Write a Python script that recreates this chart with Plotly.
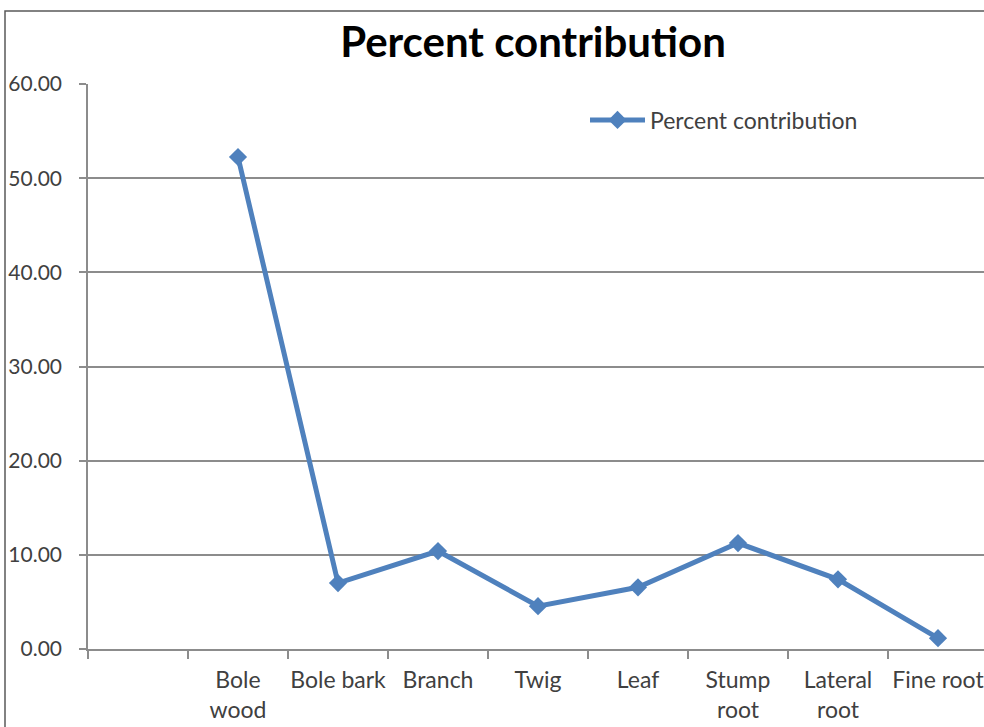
import plotly.graph_objects as go

# Biomass components and their percent contribution
categories = ["Bole<br>wood", "Bole bark", "Branch", "Twig", "Leaf",
              "Stump<br>root", "Lateral<br>root", "Fine root"]
percent = [52.25, 7.0, 10.4, 4.55, 6.55, 11.25, 7.4, 1.15]
y_ticks = [0, 10, 20, 30, 40, 50, 60]
y_tick_text = [f"{v:.2f}" for v in y_ticks]

# leading empty slot on the category axis
axis_categories = [" "] + categories

LINE_BLUE = "#4F81BD"
GRID = "#8C8C8C"
TEXT = "#404040"
FONT = "Lato"

fig = go.Figure()
fig.add_trace(go.Scatter(
    x=categories, y=percent,
    mode="lines+markers",
    name="Percent contribution",
    line=dict(color=LINE_BLUE, width=5),
    marker=dict(symbol="diamond", size=14, color=LINE_BLUE),
))

W, H = 984, 727
L, R, T, B = 88, 0, 84, 78
pw, ph = W - L - R, H - T - B

fig.update_layout(
    width=W, height=H,
    margin=dict(l=L, r=R, t=T, b=B, pad=0, autoexpand=False),
    paper_bgcolor="white", plot_bgcolor="white",
    font=dict(family=FONT, size=23, color=TEXT),
    title=dict(text="<b>Percent contribution</b>",
               font=dict(family=FONT, size=42, color="black"),
               x=533 / W, xanchor="center", y=1 - 42 / H, yanchor="middle"),
    showlegend=True,
    legend=dict(x=(585 - L) / pw, xanchor="left",
                y=(H - B - 120) / ph, yanchor="middle",
                itemwidth=55,
                bgcolor="rgba(0,0,0,0)", borderwidth=0,
                font=dict(family=FONT, size=23, color=TEXT)),
    xaxis=dict(
        type="category", categoryorder="array", categoryarray=axis_categories,
        range=[-0.5, -0.5 + pw / 100],
        tickson="boundaries", ticks="outside", ticklen=8, tickwidth=1.5, tickcolor=GRID,
        showline=True, linecolor=GRID, linewidth=1.5,
        showgrid=False, zeroline=False,
        tickangle=0, automargin=False,
        ticklabelstandoff=10,
        tickfont=dict(family=FONT, size=23, color=TEXT),
    ),
    yaxis=dict(
        range=[0, 60], tickvals=y_ticks, ticktext=y_tick_text,
        ticks="outside", ticklen=7, tickwidth=1.5, tickcolor=GRID,
        showline=True, linecolor=GRID, linewidth=1.5,
        showgrid=True, gridcolor=GRID, gridwidth=1.5, zeroline=False,
        automargin=False,
        ticklabelstandoff=13,
        tickfont=dict(family=FONT, size=21, color=TEXT),
    ),
)

# chart frame
fig.add_shape(type="rect", xref="paper", yref="paper",
              x0=(5 - L) / pw, x1=1.2, y0=-0.3, y1=(H - B - 11) / ph,
              line=dict(color="#595959", width=1.5), layer="below")

fig.write_html("out.html")
